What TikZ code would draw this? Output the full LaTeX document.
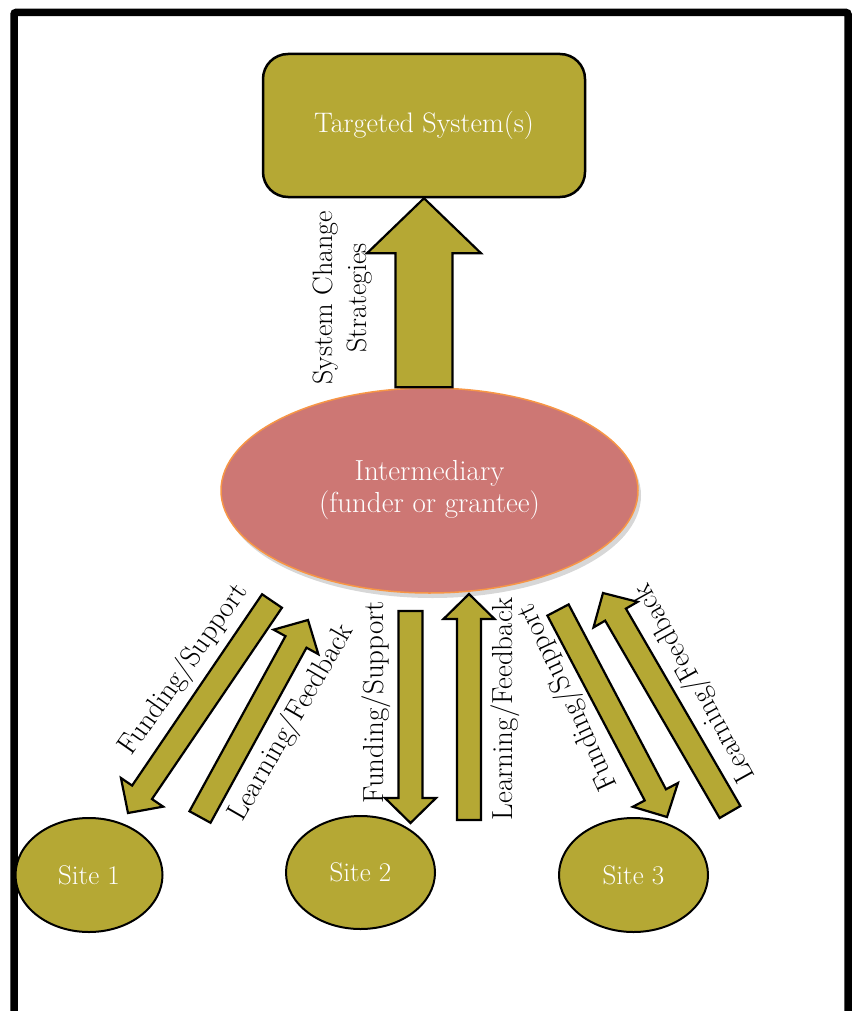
\documentclass[tikz,border=0pt]{standalone}
\usepackage{fontspec}
\usepackage{xcolor}
\usepackage{tikz}
\usetikzlibrary{calc,shapes.geometric,shadows}

\definecolor{olivebox}{RGB}{181,168,52}
\definecolor{rosefill}{RGB}{205,119,116}
\definecolor{orangeline}{RGB}{247,150,70}

% block arrow: tail, tip, half shaft width, half head width, head length
\newcommand{\blockarrow}[5]{%
  \coordinate (hb) at ($(#2)!#5!(#1)$);
  \draw[blockline] ($(#1)!#3!90:(#2)$) -- ($(hb)!#3!90:(#2)$) -- ($(hb)!#4!90:(#2)$) -- (#2)
    -- ($(hb)!#4!-90:(#2)$) -- ($(hb)!#3!-90:(#2)$) -- ($(#1)!#3!-90:(#2)$) -- cycle;}

\tikzset{
  target/.style={draw=black, line width=2.5pt, fill=olivebox, rounded corners=25pt,
    minimum width=322pt, minimum height=143pt, text=white, font=\fontsize{28.2}{33}\selectfont},
  inter/.style={ellipse, draw=orangeline, line width=1.5pt, fill=rosefill,
    minimum width=417pt, minimum height=205pt, text=white, align=center,
    drop shadow={shadow xshift=3pt, shadow yshift=-5pt, fill=black!45, opacity=0.35}},
  site/.style={ellipse, draw=black, line width=2pt, fill=olivebox, inner sep=0pt,
    minimum width=147pt, minimum height=114pt, text=white, font=\fontsize{27}{30}\selectfont},
  blockline/.style={draw=black, line width=2.2pt, fill=olivebox, line join=miter},
  lbl/.style={inner sep=0pt, align=center}
}

\begin{document}
\begin{tikzpicture}[x=1pt, y=-1pt, font=\fontsize{29}{32}\selectfont]
    \useasboundingbox (0,0) rectangle (853,1011);
    % frame, open at the bottom
    \draw [line width=7.5pt, rounded corners=2pt] (14,1011) -- (14,12.5) -- (848,12.5) -- (848,1011);

    \node [target] (sys) at (424,125.5) {Targeted System(s)};
    \node [inter] (inter) at (429.5,490.5) {Intermediary\\(funder or grantee)};
    \node [site] (site1) at (89,875) {Site 1};
    \node [site, minimum width=149pt, minimum height=113pt] (site2) at (360.5,872.5) {Site 2};
    \node [site, minimum width=149pt] (site3) at (633.5,875) {Site 3};

    % system change arrow
    \coordinate (uptail) at (sys.south |- inter.north);
    \blockarrow{uptail}{sys.south}{28.5pt}{57pt}{55pt}

    % funding and learning arrows
    \coordinate (f1a) at (272,601);   \coordinate (f1b) at (128,813);
    \coordinate (l1a) at (200,817);   \coordinate (l1b) at (308,620);
    \coordinate (f2a) at (410.5,611); \coordinate (f2b) at (410.5,823);
    \coordinate (l2a) at (469,820);   \coordinate (l2b) at (469,594);
    \coordinate (f3a) at (558,610);   \coordinate (f3b) at (667,817);
    \coordinate (l3a) at (730,812);   \coordinate (l3b) at (603,593);
    \foreach \a/\b in {f1a/f1b, l1a/l1b, f2a/f2b, l2a/l2b, f3a/f3b, l3a/l3b}
        {\blockarrow{\a}{\b}{12pt}{25.5pt}{25pt}}

    \node [lbl, rotate=90, font=\fontsize{28}{34}\selectfont] (sysl) at (343,298) {System Change\\Strategies};
    \node [lbl, rotate=55] (f1l) at (184,670) {Funding/Support};
    \node [lbl, rotate=60] (l1l) at (292,723) {Learning/Feedback};
    \node [lbl, rotate=90] (f2l) at (376,702) {Funding/Support};
    \node [lbl, rotate=90] (l2l) at (505,709) {Learning/Feedback};
    \node [lbl, rotate=115] (f3l) at (568,697) {Funding/Support};
    \node [lbl, rotate=119] (l3l) at (695,683) {Learning/Feedback};
\end{tikzpicture}
\end{document}
